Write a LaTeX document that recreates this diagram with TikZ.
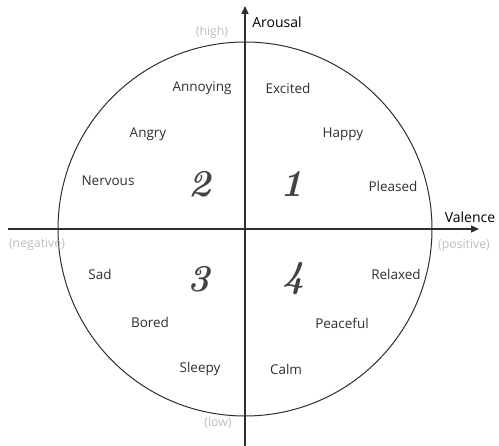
\documentclass[tikz,border=0pt]{standalone}
\usepackage{fontspec}
\setsansfont{Open Sans}
\usetikzlibrary{arrows.meta}
\definecolor{ink}{HTML}{2E2E2E}
\definecolor{faint}{HTML}{BDBDBD}
\tikzset{
  emo/.style={font=\sffamily\fontsize{13.5}{14}\selectfont, text=ink, inner sep=0pt},
  pole/.style={font=\sffamily\fontsize{12.3}{13}\selectfont, text=faint, inner sep=0pt},
  axlbl/.style={font=\sffamily\fontsize{14}{15}\selectfont, text=black, inner sep=0pt},
  quad/.style={font=\fontsize{38}{38}\selectfont\bfseries\itshape, text=ink!90, inner sep=0pt},
  axis/.style={draw=ink, line width=1.6pt, -{Triangle[length=8pt,width=7pt]}},
  axisplain/.style={draw=ink, line width=1.6pt},
}
\begin{document}
\begin{tikzpicture}[x=1pt,y=-1pt]
\useasboundingbox (0,0) rectangle (499,446);
\coordinate (O) at (245,229);
\coordinate (L) at (8,229);
\coordinate (R) at (479,229);
\coordinate (T) at (245,6);
\coordinate (B) at (245,446);
\draw[ink, line width=1pt] (O) circle[radius=187];
\draw[axisplain] (L) -- (O);
\draw[axis] (O) -- (R);
\draw[axisplain] (B) -- (O);
\draw[axis] (O) -- (T);
\node[axlbl] (val) at (470,217) {Valence};
\node[axlbl] (aro) at (277,22) {Arousal};
\node[pole] (hi) at (212,32) {(high)};
\node[pole] (lo) at (218,423) {(low)};
\node[pole] (neg) at (37,244) {(negative)};
\node[pole] (pos) at (464,245) {(positive)};
\node[quad] (q1) at (292,184) {1};
\node[quad] (q2) at (200,184) {2};
\node[quad] (q3) at (199,279) {3};
\node[quad] (q4) at (294,279) {4};
\node[emo] (annoying) at (202,88) {Annoying};
\node[emo] (excited) at (288,88) {Excited};
\node[emo] (angry) at (148,134) {Angry};
\node[emo] (happy) at (343,134) {Happy};
\node[emo] (nervous) at (108,181) {Nervous};
\node[emo] (pleased) at (393,186) {Pleased};
\node[emo] (sad) at (100,274) {Sad};
\node[emo] (relaxed) at (396,274) {Relaxed};
\node[emo] (bored) at (150,322) {Bored};
\node[emo] (peaceful) at (342,323) {Peaceful};
\node[emo] (sleepy) at (200,369) {Sleepy};
\node[emo] (calm) at (286,369) {Calm};
\end{tikzpicture}
\end{document}
